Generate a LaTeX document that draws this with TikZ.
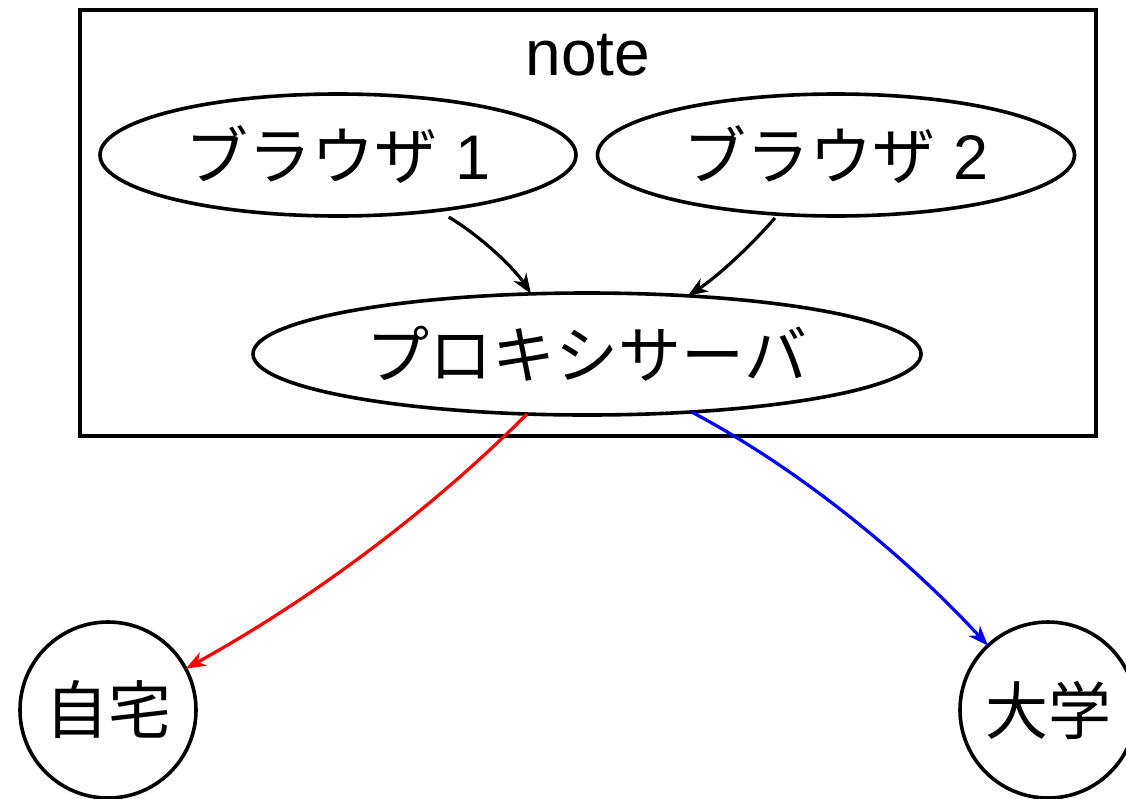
\documentclass[tikz,border=0pt]{standalone}
\usepackage{fontspec}
\setmainfont{Liberation Sans}
\newfontfamily\cjk{Noto Sans CJK JP}
\usetikzlibrary{shapes.geometric,arrows.meta}
\begin{document}
\begin{tikzpicture}[x=1pt,y=-1pt,
  every node/.style={inner sep=0pt,outer sep=0pt,line width=3.6pt,font=\fontsize{63}{63}\selectfont},
  oval/.style={draw,ellipse},
  ring/.style={draw,circle,minimum size=176pt},
  conn/.style={line width=3.2pt,-{Stealth[length=20pt,width=15pt,inset=6pt]}}]
\useasboundingbox (0,0) rectangle (1126,798);
\node[draw,rectangle,minimum width=1016pt,minimum height=426pt] (note) at (588,223) {};
\node[font=\fontsize{64}{64}\selectfont] (notelabel) at (588,55) {note};
\node[oval,minimum width=476pt,minimum height=122pt] (b1) at (338,155) {{\cjk ブラウザ} 1};
\node[oval,minimum width=477pt,minimum height=122pt] (b2) at (836,155) {{\cjk ブラウザ} 2};
\node[oval,minimum width=668pt,minimum height=122pt] (px) at (587,354) {\cjk プロキシサーバ};
\node[ring] (home) at (108,710) {\cjk 自宅};
\node[ring] (univ) at (1048,710) {\cjk 大学};
\draw[conn] ([yshift=-8pt]b1.-26.4) .. controls +(33,20) and +(-17,-26) .. (px.133.6);
\draw[conn] ([yshift=-4pt]b2.224.5) .. controls +(-26,30) and +(28,-18) .. (px.30.2);
\draw[conn,red] (px.-135.5) .. controls +(-103,103) and +(118,-65) .. (home.28);
\draw[conn,blue] (px.-29.3) .. controls +(106,56) and +(-84,-91) .. (univ.133);
\end{tikzpicture}
\end{document}
